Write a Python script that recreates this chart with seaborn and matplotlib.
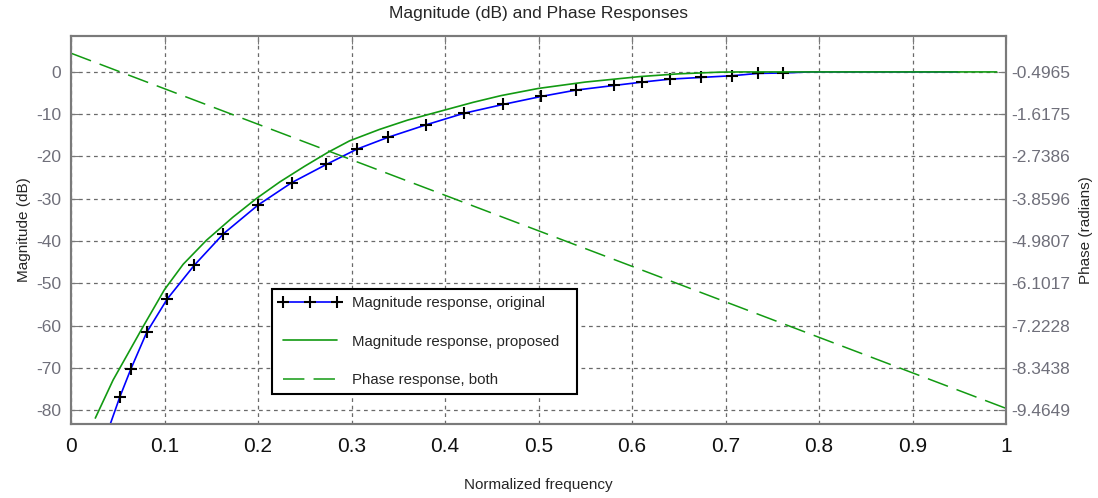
import numpy as np
import pandas as pd
import matplotlib
matplotlib.use("Agg")
import matplotlib.pyplot as plt
import seaborn as sns
from matplotlib.lines import Line2D

# values
freq_orig = [0.0417, 0.0524, 0.064, 0.081, 0.103, 0.132, 0.163, 0.200, 0.236, 0.273,
             0.3055, 0.3387, 0.380, 0.420, 0.462, 0.503, 0.540, 0.581, 0.611, 0.641,
             0.674, 0.707, 0.735, 0.762, 0.790, 0.948]
mag_orig = [-83.5, -76.8, -70.3, -61.6, -53.7, -45.7, -38.3, -31.5, -26.2, -21.9,
            -18.3, -15.5, -12.5, -9.8, -7.7, -5.8, -4.3, -3.2, -2.4, -1.7,
            -1.3, -0.9, -0.35, -0.25, 0.0, 0.0]
marker_idx = list(range(1, 24))

freq_prop = [0.026, 0.045, 0.06, 0.077, 0.10, 0.12, 0.145, 0.173, 0.1986, 0.2235,
             0.25, 0.275, 0.298, 0.33, 0.36, 0.395, 0.43, 0.46, 0.50, 0.55,
             0.6086, 0.65, 0.694, 0.72, 0.99]
mag_prop = [-81.9, -72.9, -67.0, -60.3, -51.5, -45.5, -39.8, -34.4, -29.9, -26.0,
            -22.3, -19.0, -16.3, -13.6, -11.4, -9.3, -7.2, -5.6, -3.9, -2.4,
            -1.1, -0.45, -0.05, 0.0, 0.0]

freq_phase = [0.0, 1.0]
phase = [0.0, -9.42]

phase_ticks = [-0.4965, -1.6175, -2.7386, -3.8596, -4.9807, -6.1017, -7.2228, -8.3438, -9.4649]
mag_ticks = [0, -10, -20, -30, -40, -50, -60, -70, -80]
freq_ticks = [0, 0.1, 0.2, 0.3, 0.4, 0.5, 0.6, 0.7, 0.8, 0.9, 1]

sns.set_style("white")
plt.rcParams['font.family'] = ['Liberation Sans', 'DejaVu Sans']
plt.rcParams['axes.unicode_minus'] = False

green = '#129a12'
frame = '#7a7a7a'
tickc = '#6f6f7a'

fig = plt.figure(figsize=(10.98, 4.98), dpi=100)
ax = fig.add_axes([71 / 1098, 74 / 498, 935 / 1098, 388 / 498])
ylim = (-83.3, 8.5)

# 原始幅度
orig = pd.DataFrame({'f': freq_orig, 'm': mag_orig})
sns.lineplot(data=orig, x='f', y='m', ax=ax, color='blue', lw=1.2, sort=False,
             marker='+', markevery=marker_idx, markersize=8, markeredgewidth=1.5,
             markeredgecolor='black', zorder=3)
# 新方案幅度
prop = pd.DataFrame({'f': freq_prop, 'm': mag_prop})
sns.lineplot(data=prop, x='f', y='m', ax=ax, color=green, lw=1.2, sort=False, zorder=3)

ax.set_xlim(0, 1)
ax.set_ylim(*ylim)
ax.set_xticks(freq_ticks)
ax.set_xticklabels([f'{t:g}' for t in freq_ticks])
ax.set_yticks(mag_ticks)
ax.grid(True, color='#6a6a6a', linestyle=(0, (3, 3)), lw=0.9)
ax.set_axisbelow(True)
ax.tick_params(axis='y', direction='in', length=6, colors=frame, labelcolor=tickc,
               labelsize=12.5, pad=7)
ax.tick_params(axis='x', direction='in', length=6, colors=frame, labelcolor='#111111',
               labelsize=15, pad=9, top=True)
for s in ax.spines.values():
    s.set_color(frame)
    s.set_linewidth(1.5)
ax.set_xlabel('Normalized frequency', fontsize=11, labelpad=16)
ax.set_ylabel('Magnitude (dB)', fontsize=11, labelpad=4)
ax.set_title('Magnitude (dB) and Phase Responses', fontsize=12.5, pad=13)

# 相位
ax2 = ax.twinx()
k = 1.12105 / 10
ax2.set_ylim(-0.4965 + ylim[0] * k, -0.4965 + ylim[1] * k)
ph = pd.DataFrame({'f': freq_phase, 'p': phase})
sns.lineplot(data=ph, x='f', y='p', ax=ax2, color=green, lw=1.1,
             linestyle=(0, (14, 6)), sort=False)
ax2.set_yticks(phase_ticks)
ax2.set_yticklabels([f'{t:.4f}' for t in phase_ticks])
ax2.tick_params(axis='y', direction='in', length=6, colors=frame, labelcolor=tickc,
                labelsize=12.5, pad=4)
for s in ax2.spines.values():
    s.set_color(frame)
    s.set_linewidth(1.5)
ax2.set_ylabel('Phase (radians)', fontsize=11, labelpad=6)
ax2.set_xlim(0, 1)

handles = [
    Line2D([], [], color='blue', lw=1.2, marker='+', markersize=8, markeredgewidth=1.5,
           markeredgecolor='black'),
    Line2D([], [], color=green, lw=1.2),
    Line2D([], [], color=green, lw=1.1, linestyle=(0, (14, 6))),
]
labels = ['Magnitude response, original', 'Magnitude response, proposed', 'Phase response, both']
leg = ax2.legend(handles, labels, loc='lower left', bbox_to_anchor=(0.215, 0.077, 0.326, 0.278),
                 mode='expand', fontsize=10.8, numpoints=3, handlelength=4.2,
                 labelspacing=1.65, borderpad=0.45, handletextpad=0.7, fancybox=False,
                 framealpha=1, borderaxespad=0)
leg.get_frame().set_edgecolor('black')
leg.get_frame().set_linewidth(1.5)

fig.savefig('out.png', dpi=100)
